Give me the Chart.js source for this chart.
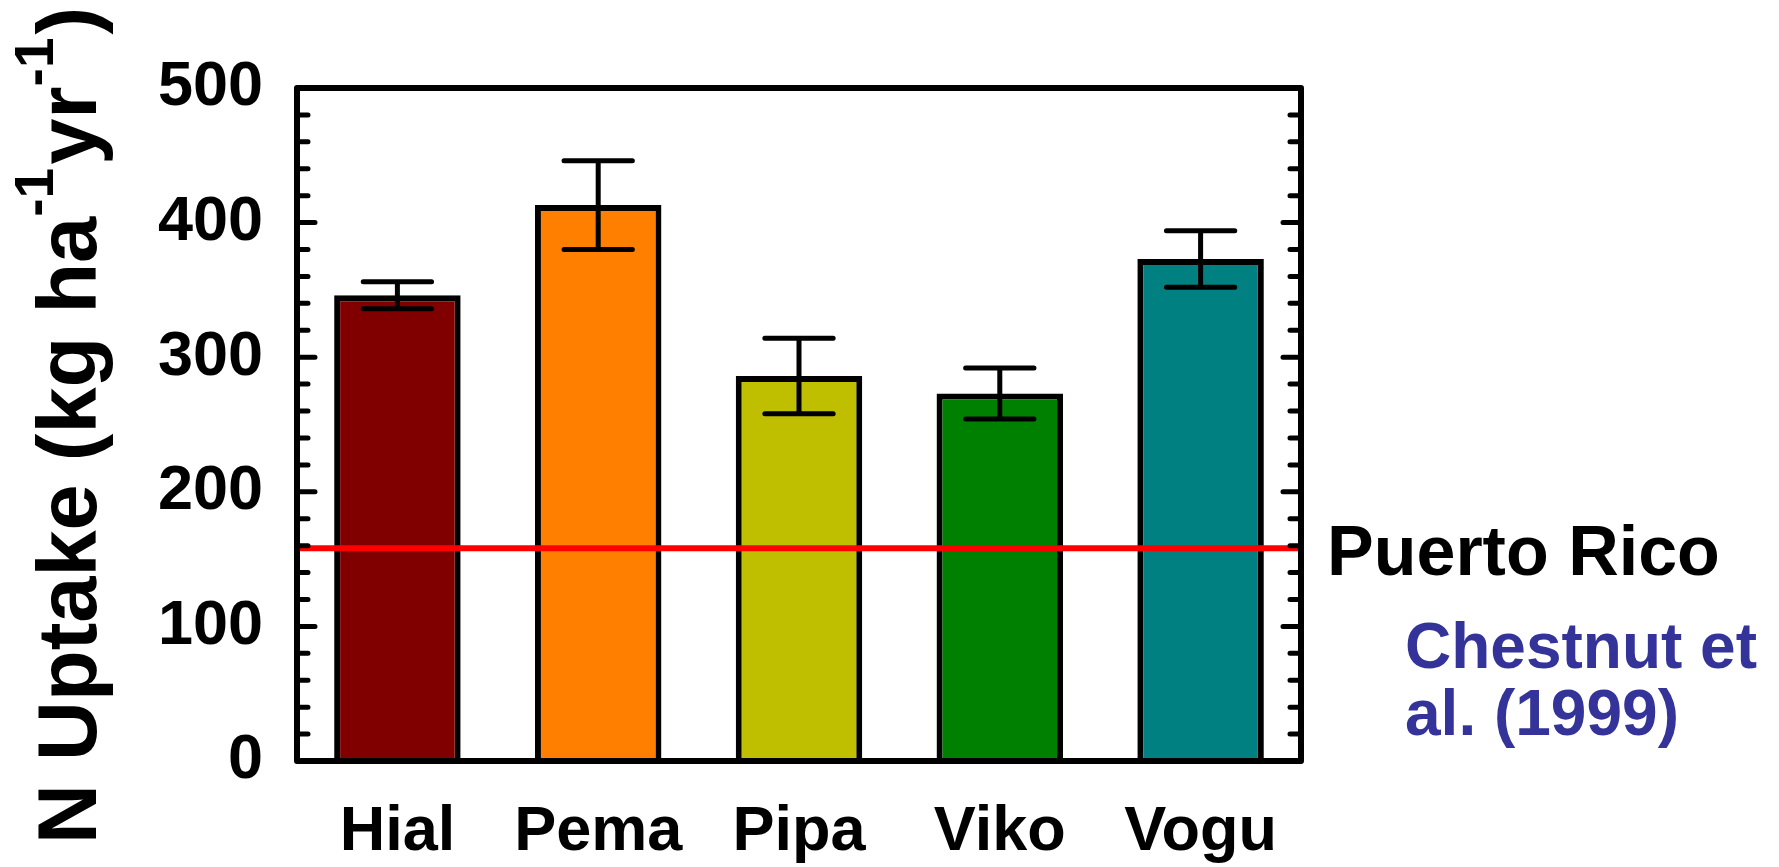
<!DOCTYPE html>
<html>
<head>
<meta charset="utf-8">
<script src="https://cdn.jsdelivr.net/npm/chart.js@4.4.0/dist/chart.umd.min.js"></script>
<style>
html, body { margin: 0; padding: 0; background: #fff; }
#wrap { width: 1779px; height: 867px; }
</style>
</head>
<body>
<div id="wrap"><canvas id="barChart" width="1779" height="867"></canvas></div>
<script>
"use strict";

// Data
let species = ["Hial", "Pema", "Pipa", "Viko", "Vogu"];
let uptake = [346, 413, 286, 273, 373];
let uptakeErr = [10, 33, 28, 19, 21];
let barColors = ["#800000", "#ff8000", "#bfbf00", "#008000", "#008080"];
let puertoRico = 158;
let yMin = 0;
let yMax = 500;
let yStep = 100;
let yMinorStep = 20;

const FONT = "'Liberation Sans', Arial, sans-serif";

// error bars, frame, inner ticks and side texts
const extras = {
    id: 'extras',
    afterDatasetsDraw(chart) {
        const ctx = chart.ctx;
        const yScale = chart.scales.y;
        const meta = chart.getDatasetMeta(0);
        ctx.save();
        ctx.strokeStyle = '#000';
        ctx.lineWidth = 5;
        ctx.lineCap = 'round';
        meta.data.forEach((bar, i) => {
            const x = bar.x;
            const hi = yScale.getPixelForValue(uptake[i] + uptakeErr[i]);
            const lo = yScale.getPixelForValue(uptake[i] - uptakeErr[i]);
            const half = bar.width * 0.27;
            ctx.beginPath();
            ctx.moveTo(x, hi); ctx.lineTo(x, lo);
            ctx.moveTo(x - half, hi); ctx.lineTo(x + half, hi);
            ctx.moveTo(x - half, lo); ctx.lineTo(x + half, lo);
            ctx.stroke();
        });
        ctx.restore();
    },
    afterDraw(chart) {
        const ctx = chart.ctx;
        const a = chart.chartArea;
        const yScale = chart.scales.y;
        ctx.save();

        // frame
        ctx.strokeStyle = '#000';
        ctx.lineWidth = 6;
        ctx.lineJoin = 'round';
        ctx.strokeRect(a.left, a.top, a.right - a.left, a.bottom - a.top);

        // ticks inside, left and right
        ctx.lineWidth = 5;
        ctx.lineCap = 'round';
        for (let v = yMin + yMinorStep; v < yMax; v += yMinorStep) {
            const y = yScale.getPixelForValue(v);
            const len = (v % yStep === 0) ? 18 : 11;
            ctx.beginPath();
            ctx.moveTo(a.left, y); ctx.lineTo(a.left + len, y);
            ctx.moveTo(a.right, y); ctx.lineTo(a.right - len, y);
            ctx.stroke();
        }

        // y title with superscripts
        const parts = [["N Uptake (kg ha", false], ["-1", true], ["yr", false], ["-1", true], [")", false]];
        const mainFont = "bold 83px " + FONT;
        const supFont = "bold 55px " + FONT;
        ctx.translate(96, 844);
        ctx.rotate(-Math.PI / 2);
        ctx.fillStyle = '#000';
        ctx.textBaseline = 'alphabetic';
        let pos = 0;
        parts.forEach(p => {
            ctx.font = p[1] ? supFont : mainFont;
            ctx.fillText(p[0], pos, p[1] ? -43 : 0);
            pos += ctx.measureText(p[0]).width + (p[1] ? 3 : 0);
        });
        ctx.setTransform(1, 0, 0, 1, 0, 0);

        // side labels
        ctx.textAlign = 'left';
        ctx.fillStyle = '#000';
        ctx.font = "bold 70px " + FONT;
        ctx.fillText("Puerto Rico", 1327, 575);
        ctx.fillStyle = '#333399';
        ctx.font = "bold 64px " + FONT;
        ctx.fillText("Chestnut et", 1405, 668);
        ctx.fillText("al. (1999)", 1405, 735);
        ctx.restore();
    }
};

const barChartEl = document.getElementById('barChart');
new Chart(barChartEl, {
    type: 'bar',
    data: {
        labels: species,
        datasets: [{
            label: 'N uptake',
            data: uptake,
            backgroundColor: barColors,
            borderColor: '#000',
            borderWidth: 6,
            barPercentage: 0.63,
            categoryPercentage: 1,
            grouped: false,
            order: 1
        }, {
            type: 'line',
            label: 'Puerto Rico',
            xAxisID: 'xLine',
            data: [{ x: 0, y: puertoRico }, { x: 1, y: puertoRico }],
            borderColor: '#ff0000',
            borderWidth: 6,
            pointRadius: 0,
            order: 0
        }]
    },
    options: {
        responsive: false,
        animation: false,
        layout: { padding: { top: 88, right: 478, left: 0, bottom: 0 } },
        plugins: {
            legend: { display: false },
            tooltip: { enabled: false }
        },
        scales: {
            x: {
                grid: { display: false, drawTicks: false },
                border: { display: false },
                ticks: {
                    color: '#000',
                    padding: 34,
                    font: { family: FONT, size: 63, weight: 'bold' }
                },
                afterFit(scale) { scale.height = 106; }
            },
            xLine: {
                type: 'linear',
                display: false,
                offset: false,
                min: 0,
                max: 1
            },
            y: {
                min: yMin,
                max: yMax,
                grid: { display: false, drawTicks: false },
                border: { display: false },
                ticks: {
                    stepSize: yStep,
                    color: '#000',
                    padding: 34,
                    font: { family: FONT, size: 63, weight: 'bold' }
                },
                afterFit(scale) { scale.width = 297; }
            }
        }
    },
    plugins: [extras]
});
</script>
</body>
</html>
